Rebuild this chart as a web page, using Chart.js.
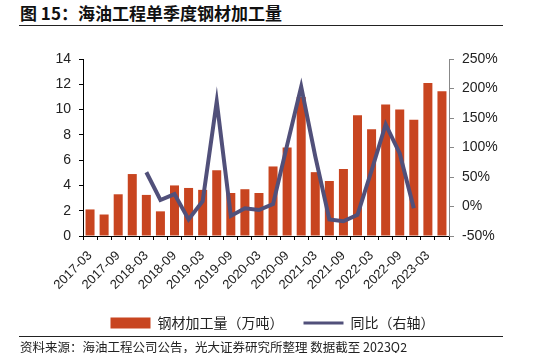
<!DOCTYPE html>
<html>
<head>
<meta charset="utf-8">
<script src="https://cdn.jsdelivr.net/npm/chart.js@4"></script>
<style>
  body { margin: 0; width: 545px; height: 353px; position: relative; background: #fff; overflow: hidden; }
  #titulo { position: absolute; left: 20px; top: 0px; font: bold 17px "Noto Sans CJK SC"; color: #111; white-space: nowrap; }
  .regua { position: absolute; left: 19px; width: 484px; border-top: 1.5px solid #222; }
  #fonte { position: absolute; left: 20px; top: 337px; font: 12.5px "Noto Sans CJK SC"; color: #222; white-space: nowrap; }
  #caixa { position: absolute; left: 0; top: 40px; width: 545px; height: 300px; }
</style>
</head>
<body>
<div id="titulo">图 15：海油工程单季度钢材加工量</div>
<div class="regua" style="top:25px"></div>
<div id="caixa"><canvas id="grafico"></canvas></div>
<div class="regua" style="top:336px"></div>
<div id="fonte">资料来源：海油工程公司公告，光大证券研究所整理 数据截至 2023Q2</div>
<script>
// trimestres (rótulo no fim de cada trimestre)
const labels = [
  '2017-03', '2017-06', '2017-09', '2017-12',
  '2018-03', '2018-06', '2018-09', '2018-12',
  '2019-03', '2019-06', '2019-09', '2019-12',
  '2020-03', '2020-06', '2020-09', '2020-12',
  '2021-03', '2021-06', '2021-09', '2021-12',
  '2022-03', '2022-06', '2022-09', '2022-12',
  '2023-03', '2023-06'
];

//钢材加工量（万吨）
const volume = [
  2.1, 1.7, 3.3, 4.9,
  3.25, 1.95, 4.0, 3.8,
  3.65, 5.2, 3.4, 3.7,
  3.4, 5.5, 7.0, 11.0,
  5.05, 4.35, 5.3, 9.55,
  8.45, 10.4, 10.0, 9.2,
  12.1, 11.45
];

// 同比（%），sem valor no primeiro ano e nos dois últimos trimestres
const yoy = [
  null, null, null, null,
  58, 11, 21, -22,
  9, 178, -16, -3,
  -6, 4, 104, 203,
  85, -22, -25, -14,
  61, 139, 90, -3,
  null, null
];

const leftTicks = [0, 2, 4, 6, 8, 10, 12, 14];
const rightTicks = [-50, 0, 50, 100, 150, 200, 250];

const fonteNum = 'Liberation Sans, Arial, sans-serif';
const fonteCJK = '"Noto Sans CJK SC", sans-serif';

const ctx = document.getElementById('grafico').getContext('2d');

const myChart = new Chart(ctx, {
  type: 'bar',
  data: {
    labels: labels,
    datasets: [{
      label: '钢材加工量（万吨）',
      data: volume,
      backgroundColor: '#C84520',
      barPercentage: 0.64,
      categoryPercentage: 1,
      yAxisID: 'y',
      order: 2
    }, {
      type: 'line',
      label: '同比（右轴）',
      data: yoy,
      borderColor: '#51507A',
      backgroundColor: '#51507A',
      borderWidth: 4,
      pointRadius: 0,
      tension: 0,
      spanGaps: false,
      yAxisID: 'y1',
      order: 1
    }]
  },
  options: {
    responsive: true,
    maintainAspectRatio: false,
    animation: false,
    layout: { padding: { top: 19, left: 0, right: 0, bottom: 0 } },
    plugins: {
      tooltip: { enabled: false },
      legend: {
        position: 'bottom',
        labels: {
          font: { family: fonteCJK, size: 14 },
          color: '#222',
          usePointStyle: true,
          pointStyleWidth: 40,
          boxHeight: 11,
          padding: 20,
          sort: (a, b) => a.datasetIndex - b.datasetIndex,
          generateLabels: function(chart) {
            const itens = Chart.defaults.plugins.legend.labels.generateLabels(chart);
            itens.forEach(function(it) {
              if (it.datasetIndex === 0) {
                it.pointStyle = 'rect';
                it.lineWidth = 0;
              } else {
                it.pointStyle = 'line';
                it.lineWidth = 3;
              }
            });
            return itens;
          }
        }
      }
    },
    scales: {
      x: {
        type: 'category',
        offset: true,
        grid: { offset: true, drawOnChartArea: false, tickLength: 4, color: '#000' },
        border: { color: '#000' },
        ticks: {
          autoSkip: false,
          maxRotation: 45,
          minRotation: 45,
          padding: 8,
          color: '#222',
          font: { family: fonteNum, size: 13 },
          callback: function(v, i) { return i % 2 === 0 ? labels[i] : ''; }
        },
        afterFit: function(s) { s.height = 60; }
      },
      y: {
        position: 'left',
        min: 0,
        max: 14,
        grid: { drawOnChartArea: false, tickLength: 4, color: '#000' },
        border: { color: '#000' },
        afterBuildTicks: function(s) { s.ticks = leftTicks.map(v => ({ value: v })); },
        ticks: { color: '#222', padding: 8, font: { family: fonteNum, size: 14 } },
        afterFit: function(s) { s.width = 83; }
      },
      y1: {
        position: 'right',
        min: -50,
        max: 250,
        grid: { drawOnChartArea: false, tickLength: 5, color: '#888' },
        border: { color: '#888' },
        afterBuildTicks: function(s) { s.ticks = rightTicks.map(v => ({ value: v })); },
        ticks: {
          color: '#222',
          padding: 8,
          font: { family: fonteNum, size: 14 },
          callback: function(v) { return v + '%'; }
        },
        afterFit: function(s) { s.width = 96; }
      }
    }
  }
});
</script>
</body>
</html>
